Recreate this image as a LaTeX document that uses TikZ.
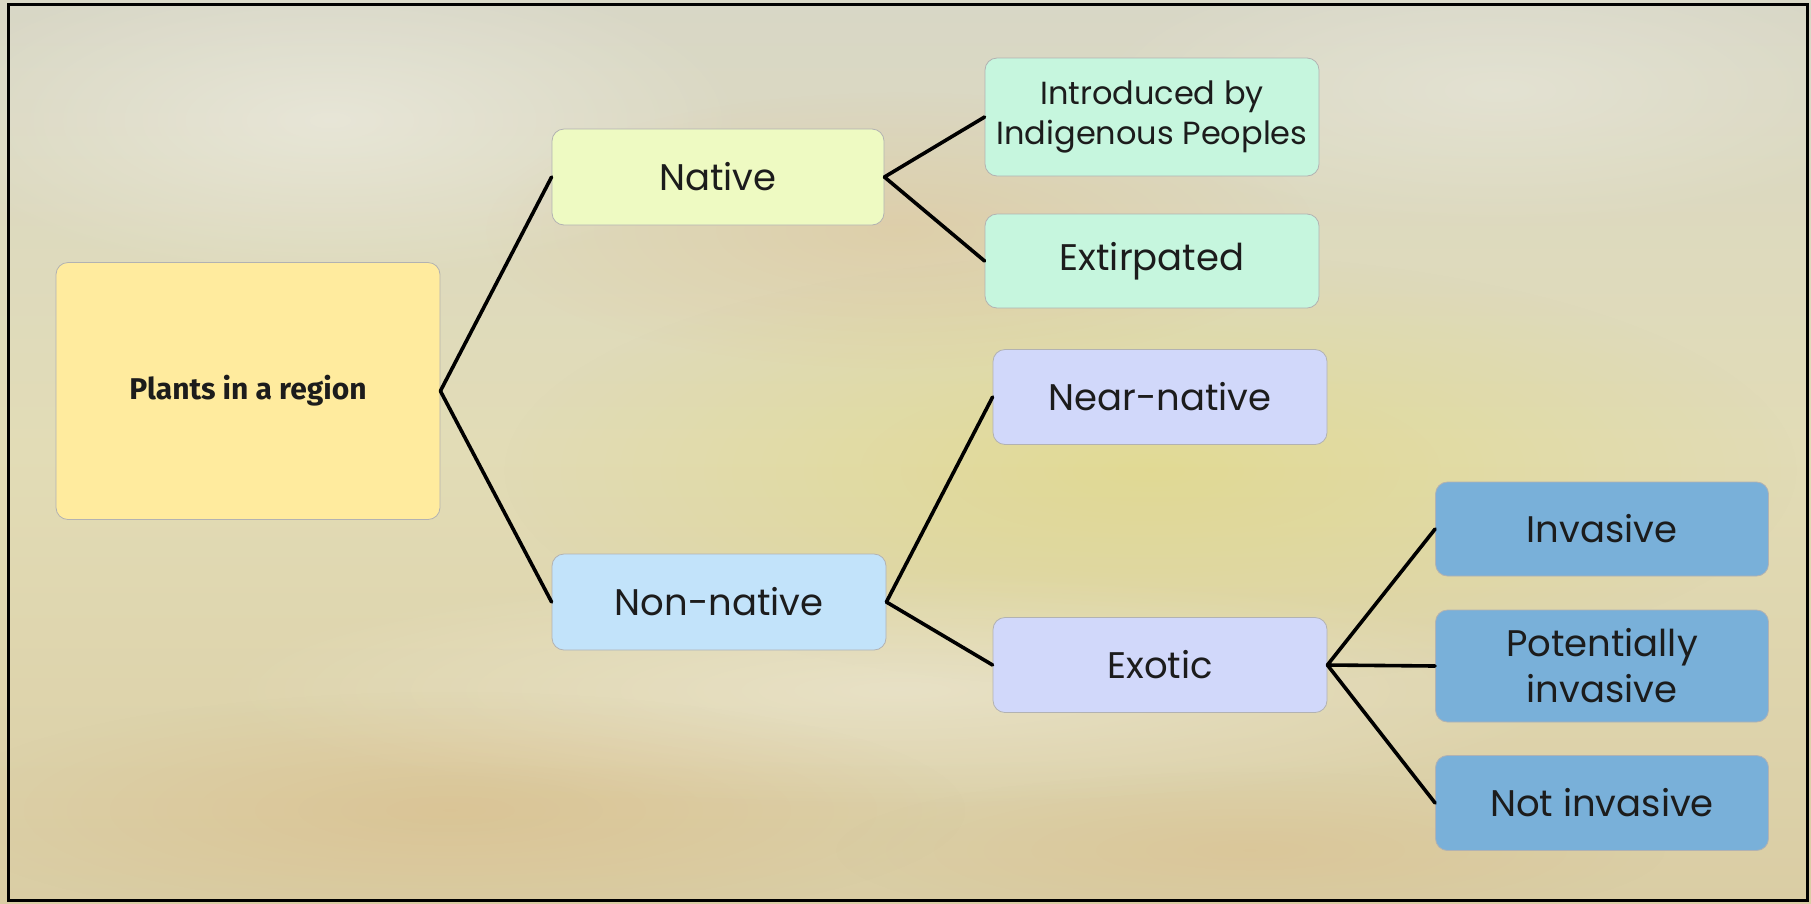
\documentclass[tikz,border=0pt]{standalone}
\usepackage{fontspec}
\setmainfont{Poppins}
\newfontfamily\rootfont{Fira Sans}
\usetikzlibrary{fadings}
\tikzfading[name=softblob, inner color=transparent!0, outer color=transparent!100]
\definecolor{cRoot}{HTML}{FFEB9E}
\definecolor{cNative}{HTML}{EEFAC2}
\definecolor{cMint}{HTML}{C6F6DE}
\definecolor{cNon}{HTML}{C2E3FA}
\definecolor{cLav}{HTML}{D1D8FA}
\definecolor{cBlue}{HTML}{79B0D9}
\definecolor{bgTop}{HTML}{D8D7C6}
\definecolor{bgMid}{HTML}{E2DCB6}
\definecolor{bgBot}{HTML}{DACDA4}
\definecolor{txt}{HTML}{1C1C1C}
\begin{document}
\begin{tikzpicture}[x=1pt,y=-1pt,
  box/.style={draw=black!30, line width=0.8pt, rounded corners=12pt, inner sep=0pt,
    align=center, text=txt, font=\fontsize{37}{44}\selectfont},
  link/.style={line width=3.6pt, black, line cap=round},
  blob/.style={path fading=softblob},
]
\useasboundingbox (0,0) rectangle (1811,903);
% background
\shade[top color=bgTop, bottom color=bgBot, middle color=bgMid] (0,0) rectangle (1811,903);
\fill[blob, white, opacity=0.35] (330,120) ellipse (420 and 160);
\fill[blob, white, opacity=0.25] (1500,90) ellipse (420 and 140);
\fill[blob, yellow!70!olive, opacity=0.18] (1150,470) ellipse (650 and 220);
\fill[blob, orange!60!brown, opacity=0.12] (900,230) ellipse (420 and 140);
\fill[blob, white, opacity=0.3] (900,690) ellipse (700 and 120);
\fill[blob, brown!70!orange, opacity=0.14] (450,810) ellipse (520 and 120);
\fill[blob, brown!70!orange, opacity=0.10] (1250,850) ellipse (420 and 80);
\draw[line width=3pt, black] (8,4) rectangle (1807,900);
% nodes
\node[box, fill=cRoot, minimum width=384pt, minimum height=257pt, font=\rootfont\bfseries\fontsize{30}{36}\selectfont] (root) at (248,391) {Plants in a region};
\node[box, fill=cNative, minimum width=332pt, minimum height=96pt] (native) at (718,177) {Native};
\node[box, fill=cMint, minimum width=334pt, minimum height=118pt, font=\fontsize{32}{40}\selectfont] (intro) at (1152,117) {Introduced by\\Indigenous Peoples};
\node[box, fill=cMint, minimum width=334pt, minimum height=94pt] (extir) at (1152,261) {Extirpated};
\node[box, fill=cNon, minimum width=334pt, minimum height=96pt] (nonnative) at (719,602) {Non-native};
\node[box, fill=cLav, minimum width=334pt, minimum height=95pt] (near) at (1160,397) {Near-native};
\node[box, fill=cLav, minimum width=334pt, minimum height=95pt] (exotic) at (1160,665) {Exotic};
\node[box, fill=cBlue, minimum width=333pt, minimum height=94pt] (inv) at (1602,529) {Invasive};
\node[box, fill=cBlue, minimum width=333pt, minimum height=112pt, font=\fontsize{37}{46}\selectfont] (pot) at (1602,666) {Potentially\\invasive};
\node[box, fill=cBlue, minimum width=333pt, minimum height=95pt] (notinv) at (1602,803) {Not invasive};
% connectors
\draw[link] (root.east) -- (native.west);
\draw[link] (root.east) -- (nonnative.west);
\draw[link] (native.east) -- (intro.west);
\draw[link] (native.east) -- (extir.west);
\draw[link] (nonnative.east) -- (near.west);
\draw[link] (nonnative.east) -- (exotic.west);
\draw[link] (exotic.east) -- (inv.west);
\draw[link] (exotic.east) -- (pot.west);
\draw[link] (exotic.east) -- (notinv.west);
\end{tikzpicture}
\end{document}
